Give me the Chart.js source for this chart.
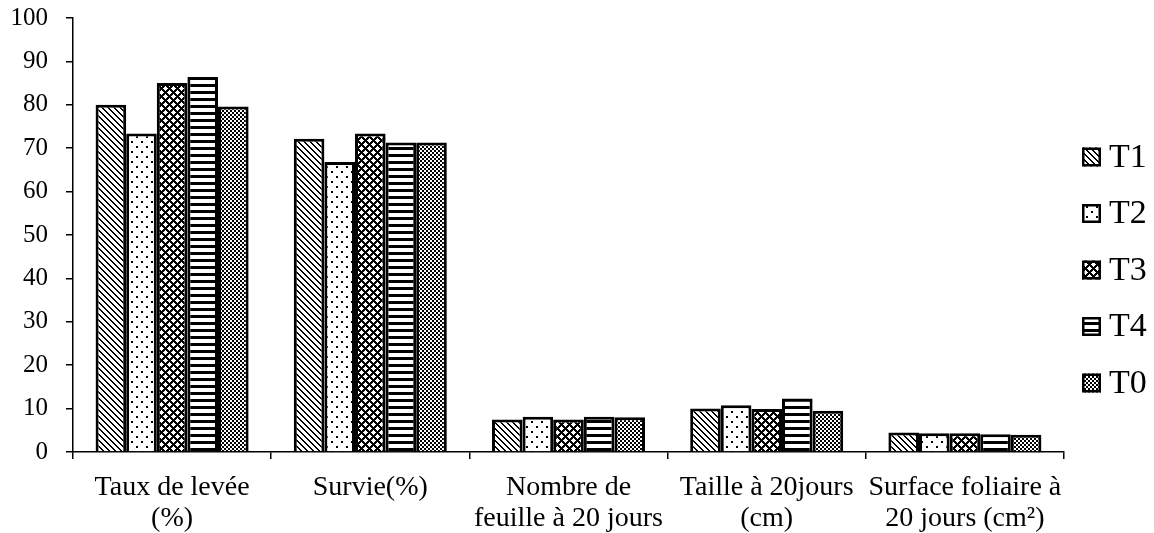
<!DOCTYPE html>
<html>
<head>
<meta charset="utf-8">
<script src="https://cdn.jsdelivr.net/npm/chart.js@4.4.1/dist/chart.umd.min.js"></script>
<style>
  html, body { margin: 0; padding: 0; background: #fff; }
  #wrap { width: 1154px; height: 533px; position: relative; }
</style>
</head>
<body>
<div id="wrap"><canvas id="c" width="1154" height="533"></canvas></div>
<script>
// Categories (multi-line labels) and treatment values
const categories = [
  ['Taux de levée', '(%)'],
  ['Survie(%)'],
  ['Nombre de', 'feuille à 20 jours'],
  ['Taille à 20jours', '(cm)'],
  ['Surface foliaire à', '20 jours (cm²)']
];
const seriesNames = ['T1', 'T2', 'T3', 'T4', 'T0'];
const T1 = [80.0, 72.2, 7.5, 10.0, 4.5];
const T2 = [73.4, 66.8, 8.1, 10.8, 4.3];
const T3 = [85.0, 73.4, 7.5, 9.9, 4.3];
const T4 = [86.4, 71.3, 8.1, 12.3, 4.1];
const T0 = [79.6, 71.3, 8.0, 9.5, 4.0];
const seriesValues = [T1, T2, T3, T4, T0];
const yTicks = [0, 10, 20, 30, 40, 50, 60, 70, 80, 90, 100];

const FONT = "'Liberation Serif', 'Times New Roman', serif";

// Monochrome fill patterns built from small pixel tiles
function makeTile(w, h, isBlack) {
  const t = document.createElement('canvas');
  t.width = w; t.height = h;
  const g = t.getContext('2d');
  g.fillStyle = '#fff';
  g.fillRect(0, 0, w, h);
  g.fillStyle = '#000';
  for (let y = 0; y < h; y++) {
    for (let x = 0; x < w; x++) {
      if (isBlack(x, y)) g.fillRect(x, y, 1, 1);
    }
  }
  return t;
}
const pctx = document.createElement('canvas').getContext('2d');
const patterns = [
  // T1: downward diagonal stripes
  pctx.createPattern(makeTile(6, 6, (x, y) => ((x - y + 6) % 6) < 2), 'repeat'),
  // T2: sparse staggered dots
  pctx.createPattern(makeTile(10, 10, (x, y) =>
    ((x === 1 || x === 2) && (y === 1 || y === 2)) ||
    ((x === 6 || x === 7) && (y === 6 || y === 7))), 'repeat'),
  // T3: bold diagonal cross lattice
  pctx.createPattern(makeTile(8, 8, (x, y) => ((x + y) % 8) < 3 || ((x - y + 8) % 8) < 3), 'repeat'),
  // T4: horizontal bars
  pctx.createPattern(makeTile(7, 7, (x, y) => y < 3), 'repeat'),
  // T0: fine checkerboard
  pctx.createPattern(makeTile(4, 4, (x, y) => ((Math.floor(x / 2) + Math.floor(y / 2)) % 2) === 0), 'repeat')
];

const datasets = seriesNames.map((name, i) => ({
  label: name,
  data: seriesValues[i],
  backgroundColor: patterns[i],
  borderColor: '#000',
  borderWidth: 3,
  borderSkipped: 'start',
  categoryPercentage: 0.772,
  barPercentage: 1.0
}));

// Legend drawn on the right: patterned box followed by the series name
const sideLegend = {
  id: 'sideLegend',
  afterDraw(chart) {
    const ctx = chart.ctx;
    const area = chart.chartArea;
    ctx.save();
    chart.data.datasets.forEach((ds, i) => {
      const cy = 270 + (i - 2) * 56.5;
      const bx = area.right + 18;
      const size = 19;
      ctx.fillStyle = ds.backgroundColor;
      ctx.fillRect(bx, cy - size / 2, size, size);
      ctx.lineWidth = 2.5;
      ctx.strokeStyle = '#000';
      ctx.strokeRect(bx + 1.25, cy - size / 2 + 1.25, size - 2.5, size - 2.5);
      ctx.fillStyle = '#000';
      ctx.font = '34px ' + FONT;
      ctx.textBaseline = 'middle';
      ctx.textAlign = 'left';
      ctx.fillText(ds.label, bx + size + 8, cy + 1);
    });
    ctx.restore();
  }
};

new Chart(document.getElementById('c'), {
  type: 'bar',
  data: { labels: categories, datasets },
  options: {
    responsive: false,
    animation: false,
    devicePixelRatio: 1,
    layout: { autoPadding: false, padding: { left: 10, right: 90, top: 18, bottom: 0 } },
    plugins: {
      legend: { display: false },
      tooltip: { enabled: false }
    },
    scales: {
      x: {
        type: 'category',
        offset: true,
        afterFit(scale) {
          scale.height = 81;
          scale.paddingLeft = 0;
          scale.paddingRight = 0;
        },
        grid: {
          display: true,
          offset: true,
          drawOnChartArea: false,
          drawTicks: true,
          tickLength: 7,
          color: '#000',
          lineWidth: 1.5
        },
        border: { display: true, color: '#000', width: 1.5 },
        ticks: {
          color: '#000',
          font: { family: FONT, size: 28, lineHeight: 1.1 },
          padding: 13,
          autoSkip: false,
          maxRotation: 0,
          minRotation: 0
        }
      },
      y: {
        min: 0,
        max: 100,
        afterFit(scale) {
          scale.width = 63;
          scale.paddingTop = 0;
          scale.paddingBottom = 0;
        },
        afterBuildTicks(scale) { scale.ticks = yTicks.map(v => ({ value: v })); },
        grid: {
          display: true,
          drawOnChartArea: false,
          drawTicks: true,
          tickLength: 7,
          color: '#000',
          lineWidth: 1.5
        },
        border: { display: true, color: '#000', width: 1.5 },
        ticks: {
          color: '#000',
          font: { family: FONT, size: 25 },
          padding: 18
        }
      }
    }
  },
  plugins: [sideLegend]
});
</script>
</body>
</html>
